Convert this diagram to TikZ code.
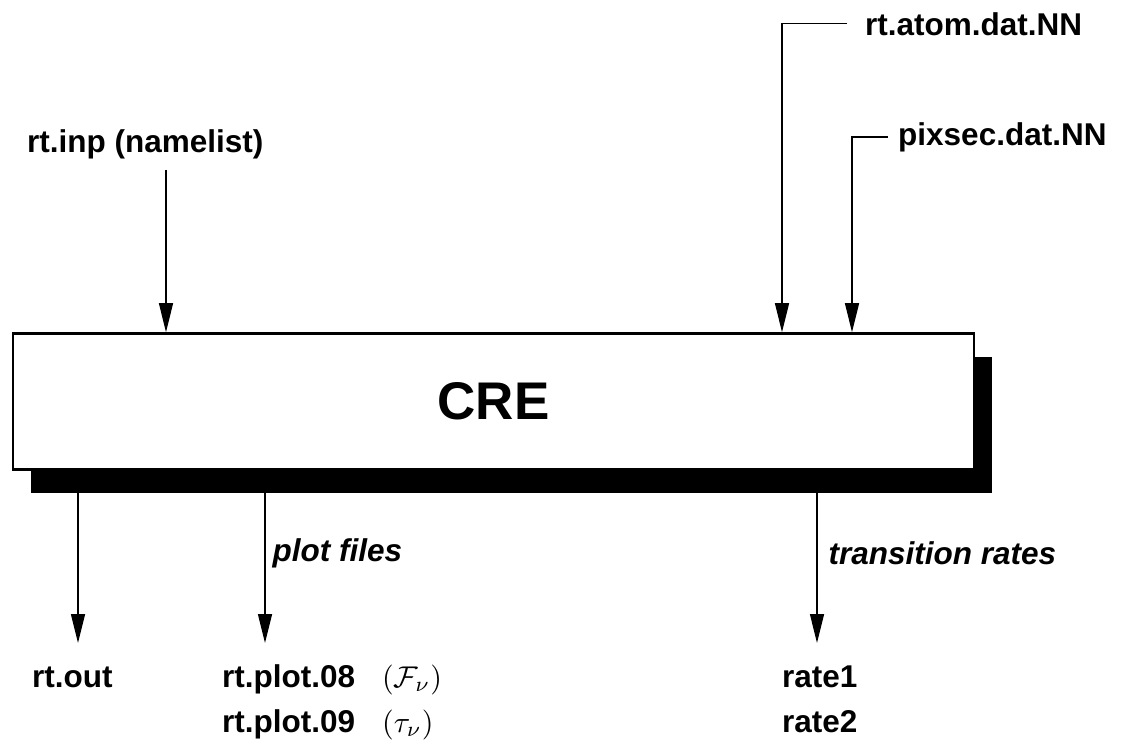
\documentclass[tikz,border=0pt]{standalone}
\usepackage{fontspec}
\usepackage{amsmath}
\setmainfont{Liberation Sans}
\usetikzlibrary{arrows.meta,shadows}

\tikzset{
  lbl/.style={inner sep=0pt, font=\fontsize{31.5}{38}\selectfont\bfseries},
  ital/.style={inner sep=0pt, font=\fontsize{31.5}{38}\selectfont\bfseries\itshape},
  arr/.style={line width=1.3pt, -{Triangle[length=29pt,width=14pt]}},
}
\newcommand{\bigmath}[1]{\scalebox{3}{\fontsize{10}{12}\selectfont$#1$}}

\begin{document}
\begin{tikzpicture}[x=1pt,y=-1pt]
        \useasboundingbox (0,0) rectangle (1121,750);
        \node[draw, line width=2.6pt, fill=white, inner sep=0pt,
              minimum width=961pt, minimum height=136pt,
              drop shadow={shadow xshift=18pt, shadow yshift=-23pt, opacity=1, fill=black},
              font=\fontsize{53}{60}\selectfont\bfseries] (cre) at (493.5,401.5) {CRE};
        \node[lbl, anchor=base west] (inp) at (27,152) {rt.inp (namelist)};
        \node[lbl, anchor=base west] (atom) at (865,35) {rt.atom.dat.NN};
        \node[lbl, anchor=base west] (pix) at (898,145) {pixsec.dat.NN};
        \coordinate (inp-end) at (166,170);
        \coordinate (atom-in) at (782,0);
        \coordinate (pix-in) at (852,0);
        \draw[arr] (inp-end) -- (inp-end |- cre.north);
        \draw[arr] ([xshift=-18pt]atom.west) -| (atom-in |- cre.north);
        \draw[arr] ([xshift=-10pt]pix.west) -| (pix-in |- cre.north);
        \coordinate (sb) at ([yshift=-22pt]cre.south);
        \node[lbl, anchor=base west] (out) at (32,687) {rt.out};
        \node[lbl, anchor=base west] (plot8) at (222,687) {rt.plot.08};
        \node[lbl, anchor=base west] (plot9) at (222,732) {rt.plot.09};
        \node[lbl, anchor=base west] (flux) at (382,687) {\bigmath{(\mathcal{F}_{\nu})}};
        \node[lbl, anchor=base west] (tau) at (382,732) {\bigmath{(\tau_{\nu})}};
        \node[lbl, anchor=base west] (rate1) at (782,687) {rate1};
        \node[lbl, anchor=base west] (rate2) at (782,732) {rate2};
        \coordinate (out-tip) at (78,643);
        \coordinate (plot-tip) at (265,643);
        \coordinate (rate-tip) at (817,643);
        \draw[arr] (out-tip |- sb) -- (out-tip);
        \draw[arr] (plot-tip |- sb) -- node[ital, pos=0.4, anchor=west, xshift=7pt] {plot files} (plot-tip);
        \draw[arr] (rate-tip |- sb) -- node[ital, pos=0.4, anchor=west, xshift=11pt] {transition rates} (rate-tip);
\end{tikzpicture}
\end{document}
